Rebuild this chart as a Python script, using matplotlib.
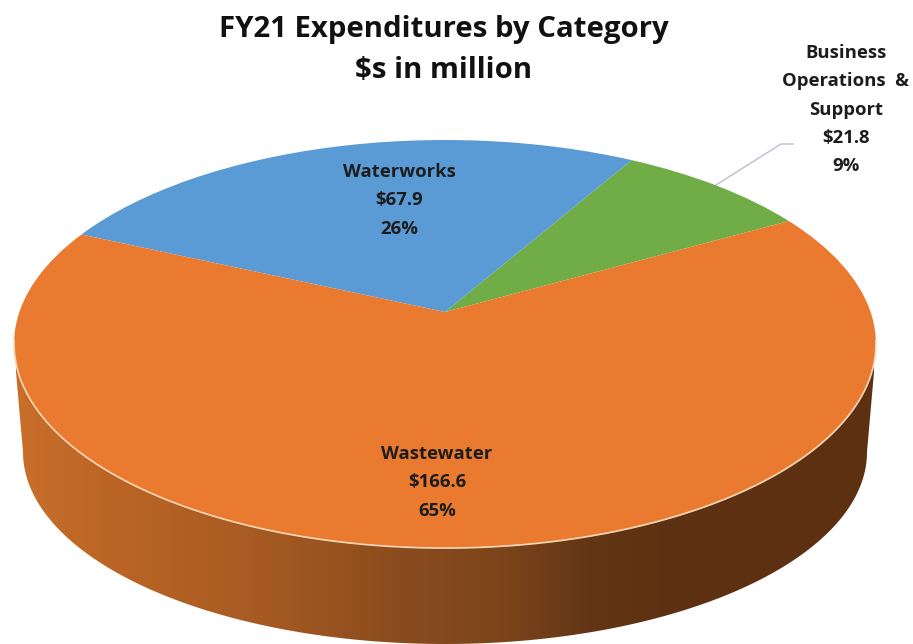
import numpy as np
import matplotlib
matplotlib.use("Agg")
import matplotlib.pyplot as plt
from matplotlib.colors import LinearSegmentedColormap
from matplotlib.patches import Polygon
from matplotlib.transforms import Transform

plt.rcParams['font.family'] = ['Open Sans', 'DejaVu Sans']

categories = ["Business\nOperations  &\nSupport", "Waterworks", "Wastewater"]
values = [21.8, 67.9, 166.6]
colors = ["#70AD47", "#5B9BD5", "#EA7A2F"]
title = "FY21 Expenditures by Category\n$s in million"
start_angle = 29.5
total = sum(values)

# top of the pie: unit circle seen in perspective, apex at (445, 312) in pixels
CX, CY, A, B, K = 445, 312, 425.6, 199, 0.157


class Tilt(Transform):
    input_dims = 2
    output_dims = 2

    def transform_non_affine(self, v):
        v = np.asarray(v, dtype=float)
        w = 1 + K * v[:, 1]
        return np.column_stack((CX + A * v[:, 0] / w, CY - B * v[:, 1] / w))


fig = plt.figure(figsize=(9.13, 6.44), dpi=100)
ax = fig.add_axes([0, 0, 1, 1])

wedges, _ = ax.pie(values, colors=colors, startangle=start_angle, radius=1)
tilt = Tilt() + ax.transData
for w in wedges:
    w.set_transform(tilt)
    w.set_zorder(3)

# rim outline, pixel coordinates of the lower ellipse
t = np.linspace(np.pi, 0, 200)
rim_x = 445 + 422 * np.cos(t)
rim_y = 452 + 192 * np.sin(t)
outline = np.column_stack((
    np.r_[16, 16, rim_x, 874, 874],
    np.r_[346, 372, rim_y, 372, 346],
))
side_cmap = LinearSegmentedColormap.from_list("side", [
    (0.00, "#C86F2A"), (0.10, "#BC6626"), (0.27, "#A85B22"), (0.33, "#9E5620"),
    (0.45, "#8A4C1E"), (0.56, "#7D451B"), (0.67, "#633615"), (0.75, "#5E3112"),
    (1.00, "#5C3011"),
])
img = ax.imshow(np.linspace(0, 1, 256)[None, :], cmap=side_cmap, aspect='auto',
                extent=(15, 875, 650, 300), zorder=1)
clip = Polygon(outline, closed=True, transform=ax.transData, fc='none', ec='none')
ax.add_patch(clip)
img.set_clip_path(clip)

# pale highlight along the front edge
a = np.radians(np.linspace(188, 352, 200))
ax.plot(np.cos(a), np.sin(a), color="#FAD9BA", lw=1.2, transform=tilt, zorder=4)

# leader line for the small slice
ax.plot([716, 781, 793], [185, 144, 144], color="#BDBDCF", lw=1, zorder=2)

ax.set_aspect('auto')
ax.set_xlim(0, 913)
ax.set_ylim(644, 0)
ax.axis('off')

for line, y in zip(title.split("\n"), [29, 70]):
    ax.text(444, y, line, ha='center', va='center', fontsize=21.2, fontweight='bold',
            color="#111111", zorder=5)

label_pos = [(846, 53), (399, 172), (437, 454)]
for name, val, (x, y) in zip(categories, values, label_pos):
    lines = name.split("\n") + [f"${val}", f"{100 * val / total:.0f}%"]
    for i, line in enumerate(lines):
        ax.text(x, y + i * 28.3, line, ha='center', va='center', fontsize=13.3,
                fontweight='bold', color="#1C1C1C", zorder=5)

fig.savefig("out.png", dpi=100)
